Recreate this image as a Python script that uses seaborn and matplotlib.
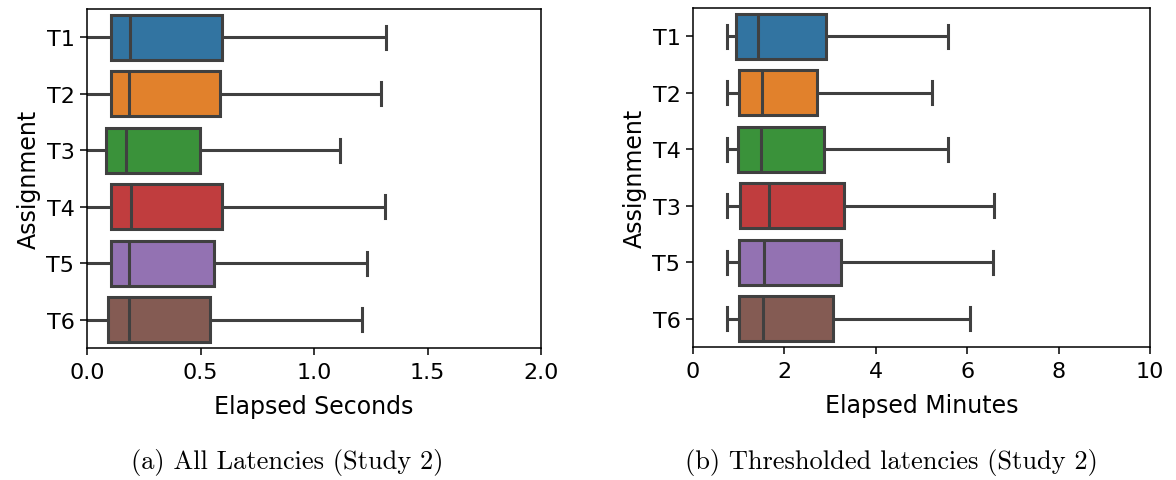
import numpy as np
import pandas as pd
import matplotlib
matplotlib.use("Agg")
import matplotlib.pyplot as plt
import seaborn as sns

# ---- Study 2: all latencies (seconds) ----
all_assignments = ["T1", "T2", "T3", "T4", "T5", "T6"]
all_low = [-0.02, -0.02, -0.02, -0.02, -0.02, -0.02]
all_q1 = [0.104, 0.104, 0.085, 0.107, 0.104, 0.094]
all_median = [0.189, 0.186, 0.172, 0.192, 0.186, 0.183]
all_q3 = [0.593, 0.585, 0.499, 0.596, 0.560, 0.543]
all_high = [1.316, 1.296, 1.114, 1.313, 1.234, 1.210]

# ---- Study 2: thresholded latencies (minutes) ----
thr_assignments = ["T1", "T2", "T4", "T3", "T5", "T6"]
thr_low = [0.744, 0.744, 0.744, 0.744, 0.744, 0.744]
thr_q1 = [0.934, 1.000, 0.978, 1.035, 1.007, 1.007]
thr_median = [1.42, 1.51, 1.495, 1.656, 1.554, 1.54]
thr_q3 = [2.917, 2.71, 2.86, 3.30, 3.245, 3.057]
thr_high = [5.57, 5.22, 5.59, 6.59, 6.565, 6.06]


def five_number_frame(names, low, q1, med, q3, high, value_col):
    rows = []
    for i, name in enumerate(names):
        for v in (low[i], q1[i], med[i], q3[i], high[i]):
            rows.append({"Assignment": name, value_col: v})
    return pd.DataFrame(rows)


df_all = five_number_frame(all_assignments, all_low, all_q1, all_median,
                           all_q3, all_high, "Elapsed Seconds")
df_thr = five_number_frame(thr_assignments, thr_low, thr_q1, thr_median,
                           thr_q3, thr_high, "Elapsed Minutes")

plt.rcParams.update({
    "font.family": "DejaVu Sans",
    "font.size": 16,
    "axes.linewidth": 1.1,
    "xtick.major.width": 1.1,
    "ytick.major.width": 1.1,
    "xtick.major.size": 5,
    "ytick.major.size": 5,
    "xtick.major.pad": 5,
    "ytick.major.pad": 4,
})

W, H = 1176, 481
fig = plt.figure(figsize=(W / 100, H / 100), dpi=100)
ax1 = fig.add_axes([87 / W, (H - 349) / H, (541 - 87) / W, (349 - 10) / H])
ax2 = fig.add_axes([693 / W, (H - 348) / H, (1150 - 693) / W, (348 - 9) / H])

box_kw = dict(showfliers=False, linewidth=2.2, width=0.8, legend=False,
              linecolor="0.25")

sns.boxplot(data=df_all, x="Elapsed Seconds", y="Assignment",
            hue="Assignment", order=all_assignments, ax=ax1, **box_kw)
sns.boxplot(data=df_thr, x="Elapsed Minutes", y="Assignment",
            hue="Assignment", order=thr_assignments, ax=ax2, **box_kw)

ax1.set_xlim(0, 2.0)
ax1.set_xticks([0.0, 0.5, 1.0, 1.5, 2.0])
ax2.set_xlim(0, 10)
ax2.set_xticks([0, 2, 4, 6, 8, 10])

for ax in (ax1, ax2):
    ax.set_xlabel(ax.get_xlabel(), fontsize=17, labelpad=9)
    ax.set_ylabel("Assignment", fontsize=17, labelpad=4)
    ax.tick_params(labelsize=16)

fig.text(287 / W, 1 - 462 / H, "(a) All Latencies (Study 2)",
         family="cmr10", fontsize=19, ha="center", va="center")
fig.text(891 / W, 1 - 462 / H, "(b) Thresholded latencies (Study 2)",
         family="cmr10", fontsize=19, ha="center", va="center")

fig.savefig("out.png", dpi=100)
